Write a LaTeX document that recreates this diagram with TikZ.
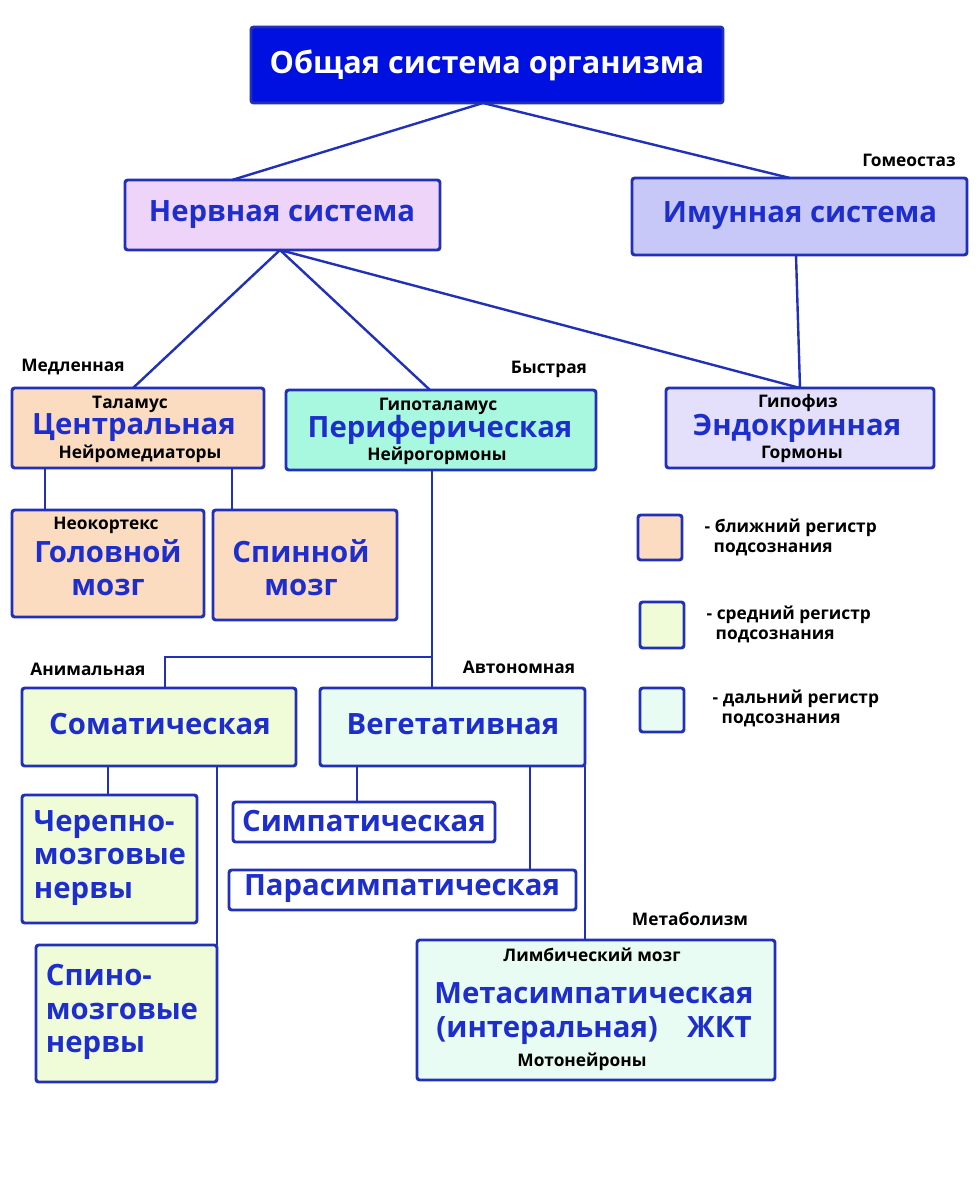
\documentclass[tikz,border=0pt]{standalone}
\usepackage{fontspec}
\setmainfont{Open Sans}
\begin{document}
\begin{tikzpicture}[x=0.75pt,y=-0.75pt,
 box/.style={draw=bb,line width=2.2pt,rounded corners=2pt},
 big/.style={font=\bfseries\fontsize{22}{25}\selectfont,text=bt,align=center},
 sm/.style={font=\bfseries\fontsize{13}{15}\selectfont,text=black,align=left},
 ln/.style={draw=bb,line width=1.8pt}]
\definecolor{bb}{HTML}{2030B8}\definecolor{bt}{HTML}{1E2ECC}
\definecolor{peach}{HTML}{FCDCC0}\definecolor{grn}{HTML}{F0FCD8}\definecolor{cyn}{HTML}{E8FCF4}
\useasboundingbox[fill=white] (0,0) rectangle (978,1200);
% boxes
\draw[box,fill={rgb,255:red,0;green,16;blue,224},draw=bb] (251,27) rectangle (723,103);
\node[font=\bfseries\fontsize{23}{26}\selectfont,text=white] (t) at (487,65) {Общая система организма};
\draw[box,fill={rgb,255:red,238;green,212;blue,248}] (125,180) rectangle (440,250);
\node[big] (n) at (282,215) {Нервная система};
\draw[box,fill={rgb,255:red,200;green,200;blue,248}] (632,178) rectangle (967,255);
\node[big] (i) at (800,216) {Имунная система};
\draw[box,fill=peach] (12,388) rectangle (264,468);
\node[sm] at (130,404) {Таламус};\node[big] (c) at (134,428) {Центральная};\node[sm] at (140,454) {Нейромедиаторы};
\draw[box,fill={rgb,255:red,168;green,248;blue,224}] (286,390) rectangle (596,470);
\node[sm] at (438,406) {Гипоталамус};\node[big] (p) at (440,430) {Периферическая};\node[sm] at (437,456) {Нейрогормоны};
\draw[box,fill={rgb,255:red,228;green,224;blue,252}] (666,388) rectangle (934,468);
\node[sm] at (798,403) {Гипофиз};\node[big] (e) at (797,428) {Эндокринная};\node[sm] at (802,454) {Гормоны};
\draw[box,fill=peach] (12,510) rectangle (204,617);
\node[sm] at (106,525) {Неокортекс};\node[big] (g) at (108,568) {Головной\\мозг};
\draw[box,fill=peach] (213,510) rectangle (397,620);
\node[big] (s) at (301,568) {Спинной\\мозг};
\draw[box,fill=grn] (22,688) rectangle (296,766);
\node[big] (so) at (160,724) {Соматическая};
\draw[box,fill=cyn] (320,688) rectangle (585,766);
\node[big] (ve) at (453,724) {Вегетативная};
\draw[box,fill=grn] (22,795) rectangle (197,923);
\node[big,align=left] (ch) at (110,858) {Черепно-\\мозговые\\нервы};
\draw[box,fill=grn] (36,945) rectangle (217,1082);
\node[big,align=left] (sp) at (122,1012) {Спино-\\мозговые\\нервы};
\draw[box,fill=white] (233,802) rectangle (495,842);
\node[big] (si) at (364,821) {Симпатическая};
\draw[box,fill=white] (229,870) rectangle (576,910);
\node[big] (pa) at (402,889) {Парасимпатическая};
\draw[box,fill=cyn] (417,940) rectangle (775,1080);
\node[sm] at (592,955) {Лимбический мозг};
\node[big] (m) at (594,993) {Метасимпатическая};
\node[big] at (594,1031) {(интеральная)\quad ЖКТ};
\node[sm] at (582,1062) {Мотонейроны};
% legend
\draw[box,fill=peach] (638,515) rectangle (682,560);
\draw[box,fill=grn] (640,602) rectangle (684,648);
\draw[box,fill=cyn] (640,688) rectangle (684,732);
\node[sm,anchor=west] at (700,537) {- ближний регистр\\\ \ подсознания};
\node[sm,anchor=west] at (702,624) {- средний регистр\\\ \ подсознания};
\node[sm,anchor=west] at (708,708) {- дальний регистр\\\ \ подсознания};
% labels
\node[sm] at (909,160) {Гомеостаз};
\node[sm] at (73,367) {Медленная};
\node[sm] at (549,369) {Быстрая};
\node[sm] at (88,669) {Анимальная};
\node[sm] at (519,667) {Автономная};
\node[sm] at (690,919) {Метаболизм};
% connectors
\coordinate (tb) at (483,103);\coordinate (nb) at (280,250);
\draw[ln] (tb) -- (232,180) (tb) -- (790,178);
\draw[ln] (nb) -- (133,388) (nb) -- (430,390) (nb) -- (800,388) (796,255) -- (800,388);
\draw[ln] (45,468) -- (45,510) (232,468) -- (232,510);
\draw[ln] (432,470) -- (432,688) (432,657) -- (165,657) -- (165,688);
\draw[ln] (108,766) -- (108,795) (217,766) -- (217,945);
\draw[ln] (357,766) -- (357,802) (530,766) -- (530,870) (585,766) -- (585,940);
\end{tikzpicture}
\end{document}
